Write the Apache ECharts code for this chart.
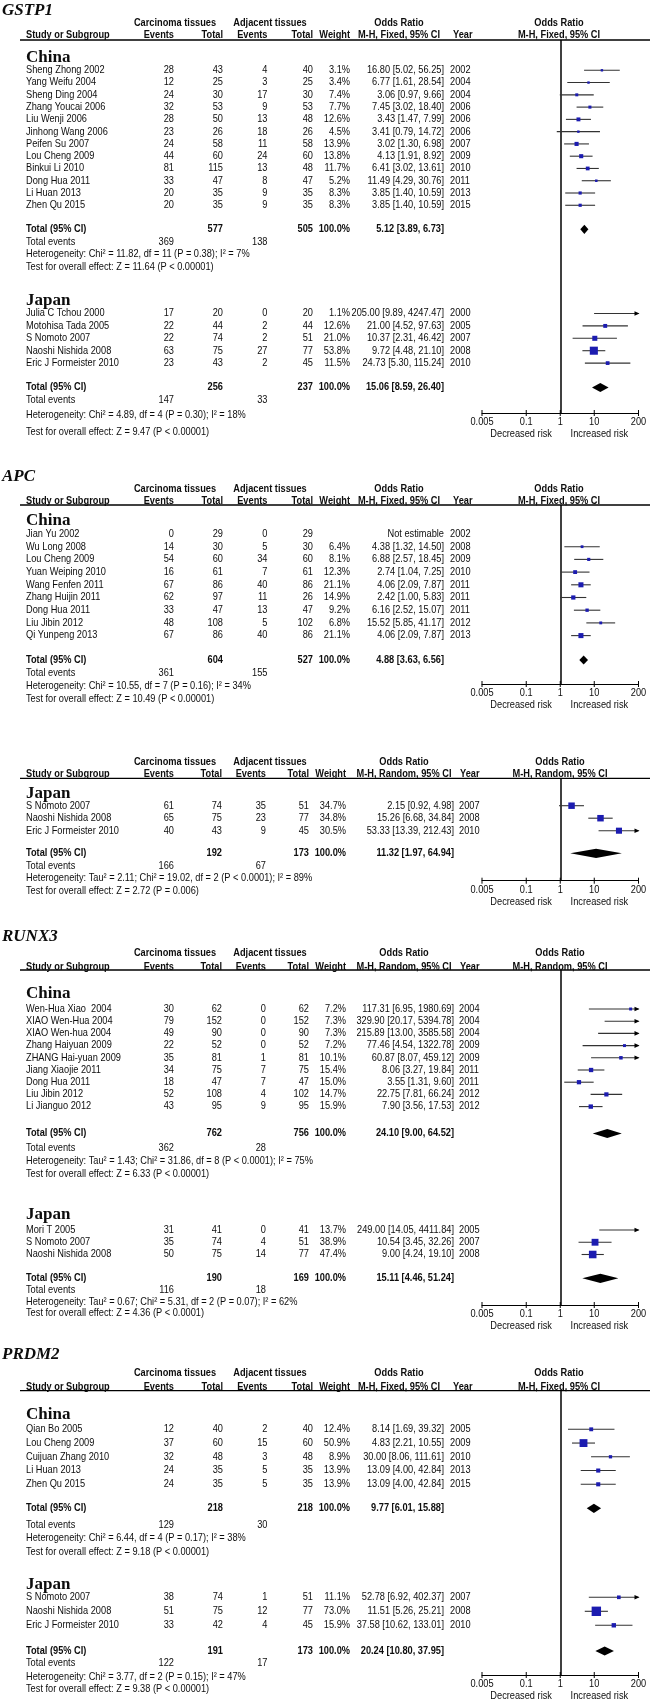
<!DOCTYPE html>
<html><head><meta charset="utf-8">
<script src="https://cdn.jsdelivr.net/npm/echarts@6/dist/echarts.min.js"></script>
<style>html,body{margin:0;padding:0;background:#fff}#c{width:650px;height:1701px}</style>
</head><body><div id="c"></div>
<script>
// ================= DATA =================
const tickValues = [0.005, 0.1, 1, 10, 200];
const tickLabels = ['0.005', '0.1', '1', '10', '200'];
// row: [study, carcEvents, carcTotal, adjEvents, adjTotal, weight%, OR, lower, upper, year]
const gstp1China = [
  ['Sheng Zhong 2002', 28, 43, 4, 40, 3.1, 16.80, 5.02, 56.25, 2002],
  ['Yang Weifu 2004', 12, 25, 3, 25, 3.4, 6.77, 1.61, 28.54, 2004],
  ['Sheng Ding 2004', 24, 30, 17, 30, 7.4, 3.06, 0.97, 9.66, 2004],
  ['Zhang Youcai 2006', 32, 53, 9, 53, 7.7, 7.45, 3.02, 18.40, 2006],
  ['Liu Wenji 2006', 28, 50, 13, 48, 12.6, 3.43, 1.47, 7.99, 2006],
  ['Jinhong Wang 2006', 23, 26, 18, 26, 4.5, 3.41, 0.79, 14.72, 2006],
  ['Peifen Su 2007', 24, 58, 11, 58, 13.9, 3.02, 1.30, 6.98, 2007],
  ['Lou Cheng 2009', 44, 60, 24, 60, 13.8, 4.13, 1.91, 8.92, 2009],
  ['Binkui Li 2010', 81, 115, 13, 48, 11.7, 6.41, 3.02, 13.61, 2010],
  ['Dong Hua 2011', 33, 47, 8, 47, 5.2, 11.49, 4.29, 30.76, 2011],
  ['Li Huan 2013', 20, 35, 9, 35, 8.3, 3.85, 1.40, 10.59, 2013],
  ['Zhen Qu 2015', 20, 35, 9, 35, 8.3, 3.85, 1.40, 10.59, 2015]
];
// summary: [carcTotal, adjTotal, weight%, OR, lower, upper, carcEvents, adjEvents]
const gstp1ChinaSum = [577, 505, 100.0, 5.12, 3.89, 6.73, 369, 138];
const gstp1ChinaHet = 'Heterogeneity: Chi\u00b2 = 11.82, df = 11 (P = 0.38); I\u00b2 = 7%';
const gstp1ChinaTest = 'Test for overall effect: Z = 11.64 (P < 0.00001)';

const gstp1Japan = [
  ['Julia C Tchou 2000', 17, 20, 0, 20, 1.1, 205.00, 9.89, 4247.47, 2000],
  ['Motohisa Tada 2005', 22, 44, 2, 44, 12.6, 21.00, 4.52, 97.63, 2005],
  ['S Nomoto 2007', 22, 74, 2, 51, 21.0, 10.37, 2.31, 46.42, 2007],
  ['Naoshi Nishida 2008', 63, 75, 27, 77, 53.8, 9.72, 4.48, 21.10, 2008],
  ['Eric J Formeister 2010', 23, 43, 2, 45, 11.5, 24.73, 5.30, 115.24, 2010]
];
const gstp1JapanSum = [256, 237, 100.0, 15.06, 8.59, 26.40, 147, 33];
const gstp1JapanHet = 'Heterogeneity: Chi\u00b2 = 4.89, df = 4 (P = 0.30); I\u00b2 = 18%';
const gstp1JapanTest = 'Test for overall effect: Z = 9.47 (P < 0.00001)';

const apcChina = [
  ['Jian Yu 2002', 0, 29, 0, 29, null, null, null, null, 2002],
  ['Wu Long 2008', 14, 30, 5, 30, 6.4, 4.38, 1.32, 14.50, 2008],
  ['Lou Cheng 2009', 54, 60, 34, 60, 8.1, 6.88, 2.57, 18.45, 2009],
  ['Yuan Weiping 2010', 16, 61, 7, 61, 12.3, 2.74, 1.04, 7.25, 2010],
  ['Wang Fenfen 2011', 67, 86, 40, 86, 21.1, 4.06, 2.09, 7.87, 2011],
  ['Zhang Huijin 2011', 62, 97, 11, 26, 14.9, 2.42, 1.00, 5.83, 2011],
  ['Dong Hua 2011', 33, 47, 13, 47, 9.2, 6.16, 2.52, 15.07, 2011],
  ['Liu Jibin 2012', 48, 108, 5, 102, 6.8, 15.52, 5.85, 41.17, 2012],
  ['Qi Yunpeng 2013', 67, 86, 40, 86, 21.1, 4.06, 2.09, 7.87, 2013]
];
const apcChinaSum = [604, 527, 100.0, 4.88, 3.63, 6.56, 361, 155];
const apcChinaHet = 'Heterogeneity: Chi\u00b2 = 10.55, df = 7 (P = 0.16); I\u00b2 = 34%';
const apcChinaTest = 'Test for overall effect: Z = 10.49 (P < 0.00001)';

const apcJapan = [
  ['S Nomoto 2007', 61, 74, 35, 51, 34.7, 2.15, 0.92, 4.98, 2007],
  ['Naoshi Nishida 2008', 65, 75, 23, 77, 34.8, 15.26, 6.68, 34.84, 2008],
  ['Eric J Formeister 2010', 40, 43, 9, 45, 30.5, 53.33, 13.39, 212.43, 2010]
];
const apcJapanSum = [192, 173, 100.0, 11.32, 1.97, 64.94, 166, 67];
const apcJapanHet = 'Heterogeneity: Tau\u00b2 = 2.11; Chi\u00b2 = 19.02, df = 2 (P < 0.0001); I\u00b2 = 89%';
const apcJapanTest = 'Test for overall effect: Z = 2.72 (P = 0.006)';

const runx3China = [
  ['Wen-Hua Xiao  2004', 30, 62, 0, 62, 7.2, 117.31, 6.95, 1980.69, 2004],
  ['XIAO Wen-Hua 2004', 79, 152, 0, 152, 7.3, 329.90, 20.17, 5394.78, 2004],
  ['XIAO Wen-hua 2004', 49, 90, 0, 90, 7.3, 215.89, 13.00, 3585.58, 2004],
  ['Zhang Haiyuan 2009', 22, 52, 0, 52, 7.2, 77.46, 4.54, 1322.78, 2009],
  ['ZHANG Hai-yuan 2009', 35, 81, 1, 81, 10.1, 60.87, 8.07, 459.12, 2009],
  ['Jiang Xiaojie 2011', 34, 75, 7, 75, 15.4, 8.06, 3.27, 19.84, 2011],
  ['Dong Hua 2011', 18, 47, 7, 47, 15.0, 3.55, 1.31, 9.60, 2011],
  ['Liu Jibin 2012', 52, 108, 4, 102, 14.7, 22.75, 7.81, 66.24, 2012],
  ['Li Jianguo 2012', 43, 95, 9, 95, 15.9, 7.90, 3.56, 17.53, 2012]
];
const runx3ChinaSum = [762, 756, 100.0, 24.10, 9.00, 64.52, 362, 28];
const runx3ChinaHet = 'Heterogeneity: Tau\u00b2 = 1.43; Chi\u00b2 = 31.86, df = 8 (P < 0.0001); I\u00b2 = 75%';
const runx3ChinaTest = 'Test for overall effect: Z = 6.33 (P < 0.00001)';

const runx3Japan = [
  ['Mori T 2005', 31, 41, 0, 41, 13.7, 249.00, 14.05, 4411.84, 2005],
  ['S Nomoto 2007', 35, 74, 4, 51, 38.9, 10.54, 3.45, 32.26, 2007],
  ['Naoshi Nishida 2008', 50, 75, 14, 77, 47.4, 9.00, 4.24, 19.10, 2008]
];
const runx3JapanSum = [190, 169, 100.0, 15.11, 4.46, 51.24, 116, 18];
const runx3JapanHet = 'Heterogeneity: Tau\u00b2 = 0.67; Chi\u00b2 = 5.31, df = 2 (P = 0.07); I\u00b2 = 62%';
const runx3JapanTest = 'Test for overall effect: Z = 4.36 (P < 0.0001)';

const prdm2China = [
  ['Qian Bo 2005', 12, 40, 2, 40, 12.4, 8.14, 1.69, 39.32, 2005],
  ['Lou Cheng 2009', 37, 60, 15, 60, 50.9, 4.83, 2.21, 10.55, 2009],
  ['Cuijuan Zhang 2010', 32, 48, 3, 48, 8.9, 30.00, 8.06, 111.61, 2010],
  ['Li Huan 2013', 24, 35, 5, 35, 13.9, 13.09, 4.00, 42.84, 2013],
  ['Zhen Qu 2015', 24, 35, 5, 35, 13.9, 13.09, 4.00, 42.84, 2015]
];
const prdm2ChinaSum = [218, 218, 100.0, 9.77, 6.01, 15.88, 129, 30];
const prdm2ChinaHet = 'Heterogeneity: Chi\u00b2 = 6.44, df = 4 (P = 0.17); I\u00b2 = 38%';
const prdm2ChinaTest = 'Test for overall effect: Z = 9.18 (P < 0.00001)';

const prdm2Japan = [
  ['S Nomoto 2007', 38, 74, 1, 51, 11.1, 52.78, 6.92, 402.37, 2007],
  ['Naoshi Nishida 2008', 51, 75, 12, 77, 73.0, 11.51, 5.26, 25.21, 2008],
  ['Eric J Formeister 2010', 33, 42, 4, 45, 15.9, 37.58, 10.62, 133.01, 2010]
];
const prdm2JapanSum = [191, 173, 100.0, 20.24, 10.80, 37.95, 122, 17];
const prdm2JapanHet = 'Heterogeneity: Chi\u00b2 = 3.77, df = 2 (P = 0.15); I\u00b2 = 47%';
const prdm2JapanTest = 'Test for overall effect: Z = 9.38 (P < 0.00001)';

// ================= LAYOUT =================
const AX_MIN = 0.005, AX_MAX = 200;
const FONT = '"Liberation Sans",Arial,sans-serif';
const SERIF = '"Liberation Serif","Times New Roman",serif';
const FS = 10.5, SX = 0.88;
const PLOT_L = 482, PLOT_R = 638.5;
const COLS = {
  Fixed:  {name: 26, cE: 174, cT: 223, aE: 267.5, aT: 313, wt: 350, orR: 444, yr: 450, carcC: 175, adjC: 270, orC: 399, yrH: 453, plotC: 559},
  Random: {name: 26, cE: 174, cT: 222, aE: 266, aT: 309, wt: 346, orR: 454, yr: 459, carcC: 175, adjC: 270, orC: 404, yrH: 460, plotC: 560}
};
const blocks = [
  {title: 'GSTP1', titleY: 11, h1Y: 23.3, h2Y: 35, lineY: 40, axisY: 413, method: 'Fixed', groups: [
    {label: 'China', rows: gstp1China, sum: gstp1ChinaSum, het: gstp1ChinaHet, test: gstp1ChinaTest,
     labelY: 57.5, firstY: 70.3, step: 12.27, totalY: 229.3, eventsY: 241.7, hetY: 254.3, testY: 267.3},
    {label: 'Japan', rows: gstp1Japan, sum: gstp1JapanSum, het: gstp1JapanHet, test: gstp1JapanTest,
     labelY: 301, firstY: 313.5, step: 12.4, totalY: 387.5, eventsY: 400, hetY: 415, testY: 432}
  ]},
  {title: 'APC', titleY: 477, h1Y: 489, h2Y: 501, lineY: 505, axisY: 684, method: 'Fixed', groups: [
    {label: 'China', rows: apcChina, sum: apcChinaSum, het: apcChinaHet, test: apcChinaTest,
     labelY: 521, firstY: 534, step: 12.7, totalY: 660, eventsY: 673.3, hetY: 686, testY: 699}
  ]},
  {title: null, h1Y: 761.7, h2Y: 774, lineY: 778.3, axisY: 880.7, method: 'Random', groups: [
    {label: 'Japan', rows: apcJapan, sum: apcJapanSum, het: apcJapanHet, test: apcJapanTest,
     labelY: 793.3, firstY: 805.7, step: 12.5, totalY: 853.3, eventsY: 866, hetY: 878.3, testY: 890.7}
  ]},
  {title: 'RUNX3', titleY: 937, h1Y: 953.3, h2Y: 966.7, lineY: 970, axisY: 1305, method: 'Random', groups: [
    {label: 'China', rows: runx3China, sum: runx3ChinaSum, het: runx3ChinaHet, test: runx3ChinaTest,
     labelY: 994, firstY: 1009, step: 12.2, totalY: 1133.5, eventsY: 1148, hetY: 1161.5, testY: 1174.5},
    {label: 'Japan', rows: runx3Japan, sum: runx3JapanSum, het: runx3JapanHet, test: runx3JapanTest,
     labelY: 1215, firstY: 1230, step: 12.25, totalY: 1278.3, eventsY: 1290, hetY: 1301.7, testY: 1313.3}
  ]},
  {title: 'PRDM2', titleY: 1355, h1Y: 1373.3, h2Y: 1386.7, lineY: 1390.7, axisY: 1675, method: 'Fixed', groups: [
    {label: 'China', rows: prdm2China, sum: prdm2ChinaSum, het: prdm2ChinaHet, test: prdm2ChinaTest,
     labelY: 1415, firstY: 1429.3, step: 13.75, totalY: 1508.3, eventsY: 1525, hetY: 1537.7, testY: 1551.7},
    {label: 'Japan', rows: prdm2Japan, sum: prdm2JapanSum, het: prdm2JapanHet, test: prdm2JapanTest,
     labelY: 1585, firstY: 1597.3, step: 14, totalY: 1651, eventsY: 1663.3, hetY: 1676.7, testY: 1689.3}
  ]}
];

// ================= BUILD =================
const chart = echarts.init(document.getElementById('c'), null, {renderer: 'canvas', width: 650, height: 1701});
const TXT = '#0d0d0d';
const graphics = [];
function txt(x, y, s, align, bold, font, sx) {
  graphics.push({type: 'text', x: x, y: y, scaleX: sx || (font ? 1 : SX), silent: true, z: 10,
    style: {text: String(s), x: 0, y: 0, fill: TXT, font: font || ((bold ? 'bold ' : '') + FS + 'px ' + FONT),
      textAlign: align, align: align, textVerticalAlign: 'middle', verticalAlign: 'middle'}});
}
const fmtOR = (o, l, h) => o.toFixed(2) + ' [' + l.toFixed(2) + ', ' + h.toFixed(2) + ']';
function axText(x, y, s) {
  return {type: 'text', x: x, y: y, scaleX: SX, style: {text: s, x: 0, y: 0, font: FS + 'px ' + FONT, fill: TXT,
    align: 'center', verticalAlign: 'middle', textAlign: 'center', textVerticalAlign: 'middle'}};
}

const grids = [], xAxes = [], yAxes = [], series = [];
blocks.forEach((b, bi) => {
  const C = COLS[b.method];
  const mh = 'M-H, ' + b.method + ', 95% CI';
  if (b.title) txt(2, b.titleY, b.title, 'left', true, 'bold italic 17px ' + SERIF);
  txt(C.carcC, b.h1Y, 'Carcinoma tissues', 'center', true);
  txt(C.adjC, b.h1Y, 'Adjacent tissues', 'center', true);
  txt(C.orC, b.h1Y, 'Odds Ratio', 'center', true);
  txt(C.plotC, b.h1Y, 'Odds Ratio', 'center', true);
  txt(C.name, b.h2Y, 'Study or Subgroup', 'left', true);
  txt(C.cE, b.h2Y, 'Events', 'right', true);
  txt(C.cT, b.h2Y, 'Total', 'right', true);
  txt(C.aE, b.h2Y, 'Events', 'right', true);
  txt(C.aT, b.h2Y, 'Total', 'right', true);
  txt(C.wt, b.h2Y, 'Weight', 'right', true);
  txt(C.orC, b.h2Y, mh, 'center', true);
  txt(C.yrH, b.h2Y, 'Year', 'left', true);
  txt(C.plotC, b.h2Y, mh, 'center', true);
  graphics.push({type: 'line', silent: true, shape: {x1: 20, y1: b.lineY, x2: 650, y2: b.lineY},
    style: {stroke: '#000', lineWidth: 1.3}});

  const studyData = [], diaData = [];
  b.groups.forEach(g => {
    txt(C.name, g.labelY, g.label, 'left', true, 'bold 17px ' + SERIF);
    g.rows.forEach((r, i) => {
      const y = g.firstY + i * g.step;
      txt(C.name, y, r[0], 'left');
      txt(C.cE, y, r[1], 'right');
      txt(C.cT, y, r[2], 'right');
      txt(C.aE, y, r[3], 'right');
      txt(C.aT, y, r[4], 'right');
      if (r[5] != null) txt(C.wt, y, r[5].toFixed(1) + '%', 'right');
      txt(C.orR, y, r[6] == null ? 'Not estimable' : fmtOR(r[6], r[7], r[8]), 'right');
      txt(C.yr, y, r[9], 'left');
      if (r[6] != null) studyData.push([r[6], r[7], r[8], r[5], y]);
    });
    const s = g.sum;
    txt(C.name, g.totalY, 'Total (95% CI)', 'left', true);
    txt(C.cT, g.totalY, s[0], 'right', true);
    txt(C.aT, g.totalY, s[1], 'right', true);
    txt(C.wt, g.totalY, s[2].toFixed(1) + '%', 'right', true);
    txt(C.orR, g.totalY, fmtOR(s[3], s[4], s[5]), 'right', true);
    txt(C.name, g.eventsY, 'Total events', 'left');
    txt(C.cE, g.eventsY, s[6], 'right');
    txt(C.aE, g.eventsY, s[7], 'right');
    txt(C.name, g.hetY, g.het, 'left');
    txt(C.name, g.testY, g.test, 'left');
    diaData.push([s[3], s[4], s[5], g.totalY]);
  });

  grids.push({left: PLOT_L, width: PLOT_R - PLOT_L, top: b.lineY, height: b.axisY - b.lineY, containLabel: false});
  xAxes.push({type: 'log', logBase: 10, gridIndex: bi, min: AX_MIN, max: AX_MAX,
    axisLine: {show: true, onZero: false, lineStyle: {color: '#000', width: 1}},
    axisTick: {show: false}, axisLabel: {show: false}, splitLine: {show: false}});
  yAxes.push({type: 'value', gridIndex: bi, inverse: true, min: b.lineY, max: b.axisY, show: false});

  series.push({type: 'custom', xAxisIndex: bi, yAxisIndex: bi, encode: {x: 0, y: 4}, silent: true, z: 5,
    data: studyData,
    renderItem: (params, api) => {
      const o = api.value(0), lo = api.value(1), hi = api.value(2), w = api.value(3), y = api.value(4);
      const kids = [];
      const p1 = api.coord([Math.max(lo, AX_MIN), y]);
      const p2 = api.coord([Math.min(hi, AX_MAX), y]);
      kids.push({type: 'line', shape: {x1: p1[0], y1: p1[1], x2: p2[0], y2: p2[1]},
        style: {stroke: '#333', lineWidth: 1.1}});
      if (hi > AX_MAX) kids.push({type: 'polygon', shape: {points: [[p2[0] + 1, p2[1]], [p2[0] - 4, p2[1] - 2.3], [p2[0] - 4, p2[1] + 2.3]]},
        style: {fill: '#000'}});
      if (lo < AX_MIN) kids.push({type: 'polygon', shape: {points: [[p1[0] - 1, p1[1]], [p1[0] + 4, p1[1] - 2.3], [p1[0] + 4, p1[1] + 2.3]]},
        style: {fill: '#000'}});
      if (o >= AX_MIN && o <= AX_MAX) {
        const c = api.coord([o, y]);
        const sz = Math.max(2.4, 1.1 * Math.sqrt(w));
        kids.push({type: 'rect', shape: {x: c[0] - sz / 2, y: c[1] - sz / 2, width: sz, height: sz},
          style: {fill: '#1c1cb0'}});
      }
      return {type: 'group', children: kids};
    },
    markLine: {silent: true, symbol: 'none', label: {show: false}, animation: false,
      lineStyle: {color: '#000', width: 1.5, type: 'solid'}, data: [{xAxis: 1}]}
  });
  series.push({type: 'custom', xAxisIndex: bi, yAxisIndex: bi, encode: {x: 0, y: 3}, silent: true, z: 6,
    data: diaData,
    renderItem: (params, api) => {
      const o = api.value(0), lo = api.value(1), hi = api.value(2), y = api.value(3);
      const a = api.coord([lo, y]), m = api.coord([o, y]), c = api.coord([hi, y]);
      const h = 4.6;
      return {type: 'polygon', shape: {points: [[a[0], a[1]], [m[0], m[1] - h], [c[0], c[1]], [m[0], m[1] + h]]},
        style: {fill: '#000'}};
    }
  });
  series.push({type: 'custom', xAxisIndex: bi, yAxisIndex: bi, encode: {x: 0, y: 1}, silent: true, z: 6,
    data: tickValues.map((v, i) => [v, b.axisY, i]),
    renderItem: (params, api) => {
      const v = api.value(0), i = api.value(2), ay = api.value(1);
      const p = api.coord([v, ay]);
      const kids = [
        {type: 'line', shape: {x1: p[0], y1: p[1] - 3, x2: p[0], y2: p[1] + 3}, style: {stroke: '#000', lineWidth: 1}},
        axText(p[0], p[1] + 9.5, tickLabels[i])
      ];
      if (i === 0) {
        const pL = api.coord([AX_MIN, ay]), pM = api.coord([1, ay]), pR = api.coord([AX_MAX, ay]);
        kids.push(axText((pL[0] + pM[0]) / 2, p[1] + 21, 'Decreased risk'));
        kids.push(axText((pM[0] + pR[0]) / 2, p[1] + 21, 'Increased risk'));
      }
      return {type: 'group', children: kids};
    }
  });
});

chart.setOption({
  animation: false,
  backgroundColor: '#fff',
  grid: grids, xAxis: xAxes, yAxis: yAxes, series: series,
  graphic: {elements: graphics}
});
</script>
</body></html>
